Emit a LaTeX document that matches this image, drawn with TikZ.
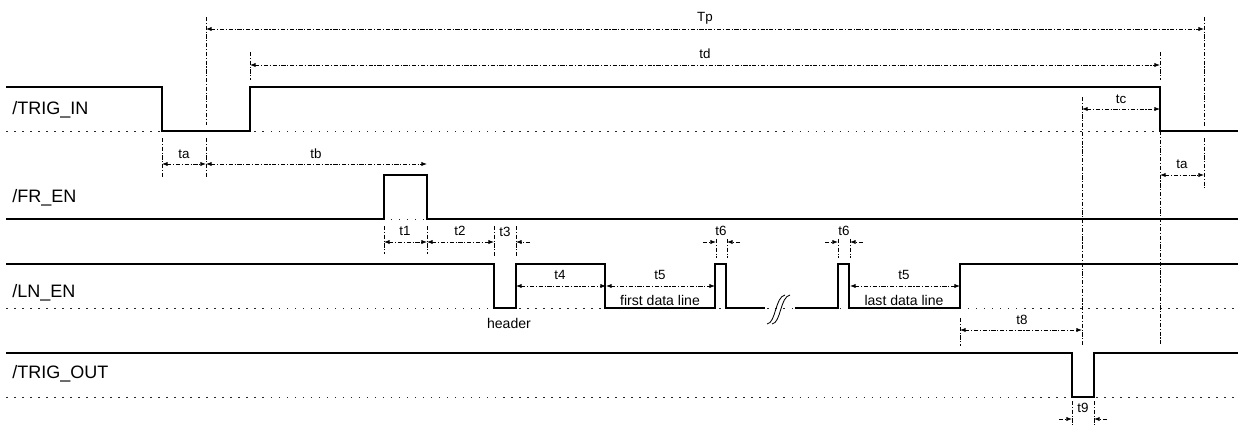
\documentclass[tikz,border=0pt]{standalone}
\usepackage{fontspec}
\setmainfont{Liberation Sans}
\usetikzlibrary{arrows.meta}

\begin{document}
\begin{tikzpicture}[x=0.025cm, y=-0.025cm,
    signal/.style={line width=0.9pt, black, line join=miter},
    base/.style={line width=0.7pt, black!85, dash pattern=on 1.1pt off 4.6pt},
    ext/.style={line width=0.55pt, black, dash pattern=on 3pt off 1.2pt on 0.8pt off 1.2pt},
    dim/.style={ext, {Latex[length=4pt,width=3pt]}-{Latex[length=4pt,width=3pt]}},
    half/.style={ext, -{Latex[length=4pt,width=3pt]}},
    sname/.style={font=\fontsize{12.8}{14}\selectfont, anchor=west, inner sep=0pt},
    tlabel/.style={font=\fontsize{9.5}{11}\selectfont, inner sep=0pt},
    note/.style={font=\fontsize{10}{12}\selectfont, inner sep=0pt}
]
\useasboundingbox (0,0) rectangle (1239,426);

% dotted low levels
\foreach \y in {131,219,308,397}
    \draw[base] (6,\y) -- (1239,\y);

% signal names
\node[sname] (trigin) at (12,110) {/TRIG\_IN};
\node[sname] (fren) at (12,198) {/FR\_EN};
\node[sname] (lnen) at (12,293) {/LN\_EN};
\node[sname] (trigout) at (12,374) {/TRIG\_OUT};

% waveforms
\draw[signal] (6,87) -- (162,87) -- (162,131) -- (250,131) -- (250,87)
    -- (1160,87) -- (1160,131) -- (1238,131);
\draw[signal] (6,219) -- (384,219) -- (384,175) -- (427,175) -- (427,219)
    -- (1238,219);
\draw[signal] (6,264) -- (494,264) -- (494,308) -- (516,308) -- (516,264)
    -- (605,264) -- (605,308) -- (715,308) -- (715,264) -- (726,264)
    -- (726,308) -- (765,308);
\draw[signal] (795,308) -- (838,308) -- (838,264) -- (849,264) -- (849,308)
    -- (960,308) -- (960,264) -- (1238,264);
\draw[signal] (6,353) -- (1072,353) -- (1072,397) -- (1094,397) -- (1094,353)
    -- (1238,353);

% break mark
\draw[line width=0.6pt] (767,324) .. controls (776,323) and (775,297) .. (785,295);
\draw[line width=0.6pt] (772,324) .. controls (781,323) and (780,297) .. (790,295);

% extension lines
\draw[ext] (206,17) -- (206,125) (206,138) -- (206,177);
\draw[ext] (250,52) -- (250,80);
\draw[ext] (162,138) -- (162,177);
\draw[ext] (1160,52) -- (1160,80) (1160,131) -- (1160,346);
\draw[ext] (1204,17) -- (1204,126) (1204,138) -- (1204,188);
\draw[ext] (1082,97) -- (1082,346);
\foreach \x in {384,427}
    \draw[ext] (\x,226) -- (\x,254);
\foreach \x in {494,516}
    \draw[ext] (\x,226) -- (\x,257);
\foreach \x in {716,727,838,850}
    \draw[ext] (\x,239) -- (\x,258);
\draw[ext] (960,318) -- (960,346);
\foreach \x in {1072,1094}
    \draw[ext] (\x,401) -- (\x,425);

% timing arrows
\draw[dim] (206,29) -- (1204,29);
\node[tlabel] (Tp) at (705,18) {Tp};
\draw[dim] (250,65) -- (1160,65);
\node[tlabel] (td) at (705,54) {td};
\draw[dim] (1082,109) -- (1160,109);
\node[tlabel] (tc) at (1121,99) {tc};
\draw[dim] (162,164) -- (206,164);
\node[tlabel] (ta1) at (184,154) {ta};
\draw[dim] (206,164) -- (427,164);
\node[tlabel] (tb) at (316,154) {tb};
\draw[dim] (1160,175) -- (1204,175);
\node[tlabel] (ta2) at (1182,164) {ta};
\draw[dim] (384,242) -- (427,242);
\node[tlabel] (t1) at (405,231) {t1};
\draw[dim] (427,242) -- (494,242);
\node[tlabel] (t2) at (460,231) {t2};
\draw[half] (530,242) -- (516,242);
\node[tlabel] (t3) at (505,232) {t3};
\draw[dim] (516,286) -- (606,286);
\node[tlabel] (t4) at (560,275) {t4};
\draw[dim] (606,286) -- (715,286);
\node[tlabel] (t5a) at (660,275) {t5};
\draw[half] (703,242) -- (716,242);
\draw[half] (740,242) -- (727,242);
\node[tlabel] (t6a) at (721,231) {t6};
\draw[half] (825,242) -- (838,242);
\draw[half] (863,242) -- (850,242);
\node[tlabel] (t6b) at (844,231) {t6};
\draw[dim] (850,286) -- (960,286);
\node[tlabel] (t5b) at (904,275) {t5};
\draw[dim] (960,330) -- (1082,330);
\node[tlabel] (t8) at (1022,320) {t8};
\draw[half] (1059,419) -- (1072,419);
\draw[half] (1107,419) -- (1094,419);
\node[tlabel] (t9) at (1083,408) {t9};

% notes
\node[note] (header) at (509,323) {header};
\node[note] (first) at (660,300) {first data line};
\node[note] (last) at (904,300) {last data line};
\end{tikzpicture}
\end{document}
